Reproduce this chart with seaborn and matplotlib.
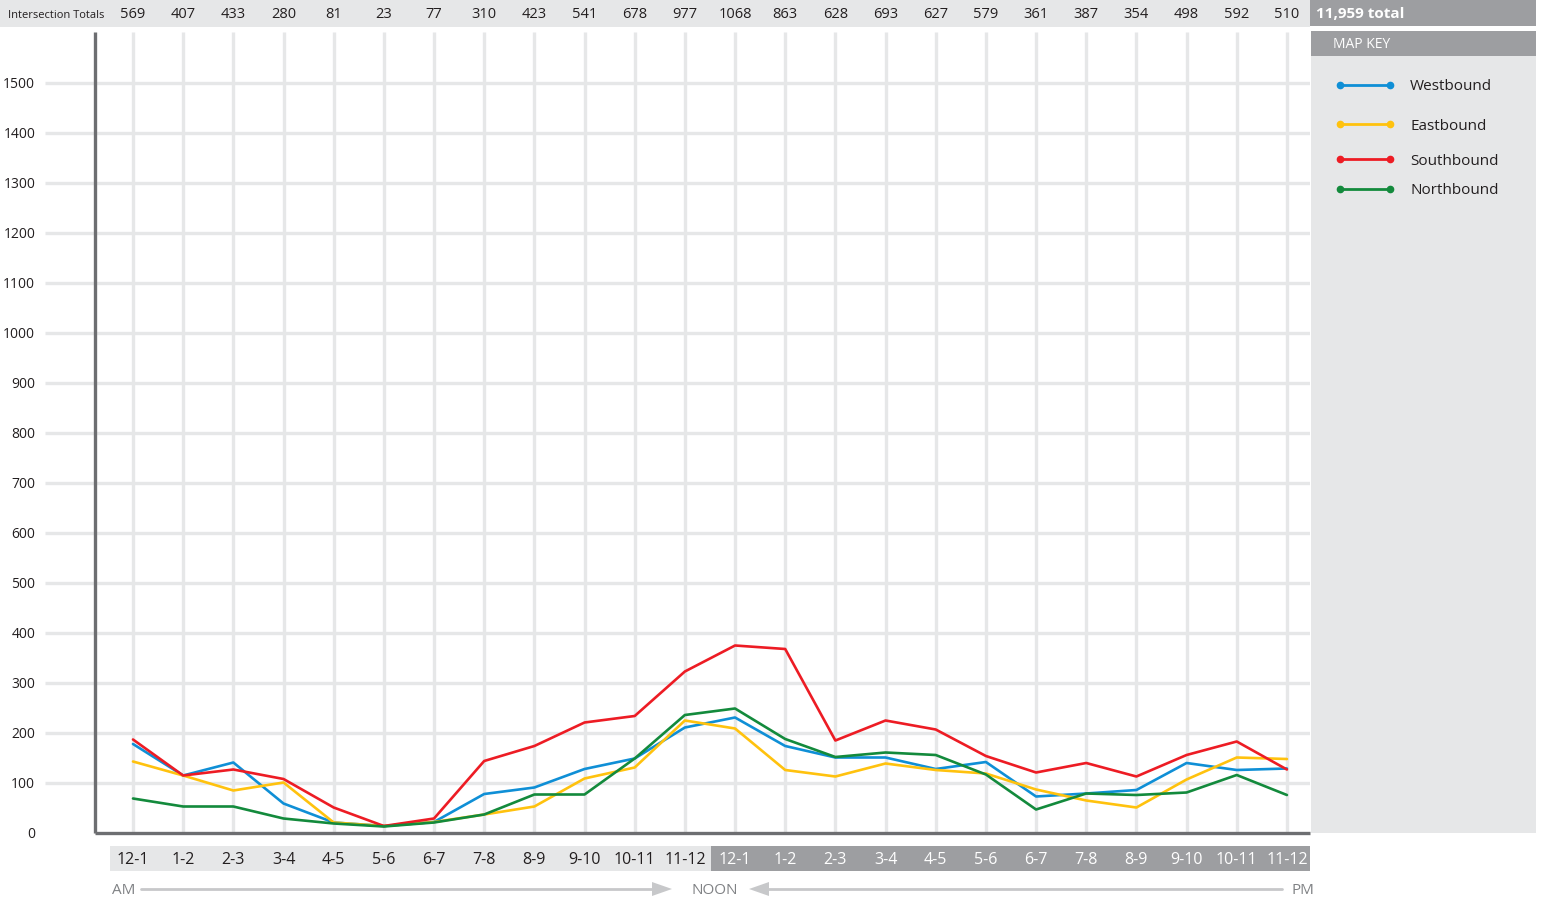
import numpy as np
import pandas as pd
import matplotlib
matplotlib.use("Agg")
import matplotlib.pyplot as plt
import matplotlib.transforms as mtransforms
from matplotlib.patches import Rectangle, Polygon
from matplotlib.lines import Line2D
import seaborn as sns

# ---------------- data ----------------
hours = ["12-1", "1-2", "2-3", "3-4", "4-5", "5-6", "6-7", "7-8", "8-9", "9-10", "10-11", "11-12"]
slots = hours + hours  # AM then PM
totals = [569, 407, 433, 280, 81, 23, 77, 310, 423, 541, 678, 977,
          1068, 863, 628, 693, 627, 579, 361, 387, 354, 498, 592, 510]
grand_total = "11,959 total"
westbound = [178, 115, 141, 59, 21, 14, 22, 78, 91, 128, 149, 211,
             231, 174, 151, 151, 128, 142, 73, 79, 86, 140, 126, 129]
eastbound = [143, 115, 85, 101, 21, 14, 22, 37, 53, 109, 131, 225,
             209, 126, 113, 139, 126, 119, 87, 65, 51, 107, 151, 148]
southbound = [187, 115, 127, 108, 51, 14, 29, 144, 174, 221, 234, 323,
              375, 368, 185, 225, 207, 154, 121, 140, 113, 156, 183, 127]
northbound = [69, 53, 53, 29, 19, 13, 21, 37, 77, 77, 149, 236,
              249, 188, 152, 161, 156, 117, 47, 79, 76, 81, 116, 76]
directions = ["Westbound", "Eastbound", "Southbound", "Northbound"]
colors = ["#0f8fd6", "#ffc20e", "#ed1c24", "#138a3c"]
y_ticks = list(range(0, 1501, 100))

# ---------------- style ----------------
sns.set_theme(style="white")
plt.rcParams["font.family"] = ["Open Sans", "DejaVu Sans"]
COND = ["Liberation Sans Narrow", "Open Sans", "DejaVu Sans"]

DARK = "#231f20"
LIGHT = "#e6e7e8"
MID = "#9d9ea1"
AXIS = "#6d6e71"

W, H = 1543, 901
fig = plt.figure(figsize=(W / 100, H / 100), dpi=100)
fig.patch.set_facecolor("white")


def rect(x0, y0, x1, y1, color, z=0):
    fig.add_artist(Rectangle((x0 / W, 1 - y1 / H), (x1 - x0) / W, (y1 - y0) / H,
                             transform=fig.transFigure, facecolor=color,
                             edgecolor="none", zorder=z))


def fyp(py):
    return 1 - py / H


# axes placed in pixel space
ax_left, ax_right, ax_top, ax_bottom = 45, 1310, 32, 833
ax = fig.add_axes([ax_left / W, 1 - ax_bottom / H, (ax_right - ax_left) / W,
                   (ax_bottom - ax_top) / H])
ax.set_facecolor("white")

first_px, step_px = 133, 50.17
ax.set_xlim((ax_left - first_px) / step_px, (ax_right - first_px) / step_px)
ymax = (ax_bottom - ax_top) * 2.0
ax.set_ylim(0, ymax)
for s in ax.spines.values():
    s.set_visible(False)

idx = np.arange(len(slots))
# grid
ax.vlines(idx, 0, ymax, color=LIGHT, lw=2.4, zorder=0)
x_axis = (95 - first_px) / step_px
ax.hlines(y_ticks[1:], ax.get_xlim()[0], ax.get_xlim()[1], color=LIGHT, lw=2.4, zorder=0)

# data lines via seaborn
frames = []
for d, vals in zip(directions, [westbound, eastbound, southbound, northbound]):
    frames.append(pd.DataFrame({"slot": idx, "count": vals, "direction": d}))
df = pd.concat(frames, ignore_index=True)
sns.lineplot(data=df, x="slot", y="count", hue="direction", hue_order=directions,
             palette=colors, linewidth=1.9, legend=False, ax=ax, zorder=3)

# axis lines
ax.plot([x_axis, x_axis], [0, ymax], color=AXIS, lw=2.4, clip_on=False, zorder=4,
        solid_capstyle="butt")
ax.plot([x_axis, ax.get_xlim()[1]], [0, 0], color=AXIS, lw=2.4, clip_on=False, zorder=4,
        solid_capstyle="butt")

ax.set_xticks([])
ax.set_yticks(y_ticks)
ax.set_yticklabels([str(v) for v in y_ticks], fontsize=10, color=DARK)
ax.tick_params(axis="y", length=0, pad=7)
ax.set_xlabel("")
ax.set_ylabel("")

blend = mtransforms.blended_transform_factory(ax.transData, fig.transFigure)

# ---------------- top bar ----------------
rect(0, 0, 1310, 27, LIGHT)
rect(1310, 0, 1536, 26, MID)
fig.text(8 / W, fyp(15), "Intersection Totals", fontsize=8, color=DARK,
         ha="left", va="center")
for i, t in enumerate(totals):
    ax.text(i, fyp(15), str(t), transform=blend, fontsize=10.5, color=DARK,
            ha="center", va="center")
fig.text(1316 / W, fyp(14), grand_total, fontsize=11, color="white",
         fontweight="bold", family=COND, ha="left", va="center")

# ---------------- map key panel ----------------
rect(1311, 56, 1536, 833, LIGHT)
rect(1311, 31, 1536, 56, MID)
fig.text(1333 / W, fyp(45), "MAP KEY", fontsize=10, color="white",
         ha="left", va="center")
legend_y = [85, 124, 159, 189]
for d, c, ly in zip(directions, colors, legend_y):
    fig.add_artist(Line2D([1340 / W, 1390 / W], [fyp(ly), fyp(ly)],
                          transform=fig.transFigure, color=c, lw=2.0,
                          marker="o", markersize=4.5))
    fig.text(1410 / W, fyp(ly + 2), d, fontsize=11, color=DARK, ha="left", va="center")

# ---------------- bottom hour boxes ----------------
rect(110, 846, 711, 871, LIGHT)
rect(711, 846, 1310, 871, MID)
for i, lab in enumerate(slots):
    ax.text(i, fyp(860), lab, transform=blend, fontsize=11.5, family=COND,
            color=DARK if i < 12 else "white", ha="center", va="center")

# ---------------- AM / NOON / PM arrows ----------------
ARR = "#c7c8ca"
ATXT = "#808285"
ya = fyp(889)
yt = fyp(890)
fig.text(112 / W, yt, "AM", fontsize=11, family=COND, color=ATXT, ha="left", va="center")
fig.text(715 / W, yt, "NOON", fontsize=11, family=COND, color=ATXT, ha="center", va="center")
fig.text(1314 / W, yt, "PM", fontsize=11, family=COND, color=ATXT, ha="right", va="center")
fig.add_artist(Line2D([141 / W, 656 / W], [ya, ya], transform=fig.transFigure, color=ARR, lw=2))
fig.add_artist(Polygon([[652 / W, ya + 7 / H], [672 / W, ya], [652 / W, ya - 7 / H]],
                       closed=True, transform=fig.transFigure, facecolor=ARR, edgecolor="none"))
fig.add_artist(Line2D([765 / W, 1282 / W], [ya, ya], transform=fig.transFigure, color=ARR, lw=2))
fig.add_artist(Polygon([[769 / W, ya + 7 / H], [749 / W, ya], [769 / W, ya - 7 / H]],
                       closed=True, transform=fig.transFigure, facecolor=ARR, edgecolor="none"))

fig.savefig("out.png", dpi=100, facecolor="white")
